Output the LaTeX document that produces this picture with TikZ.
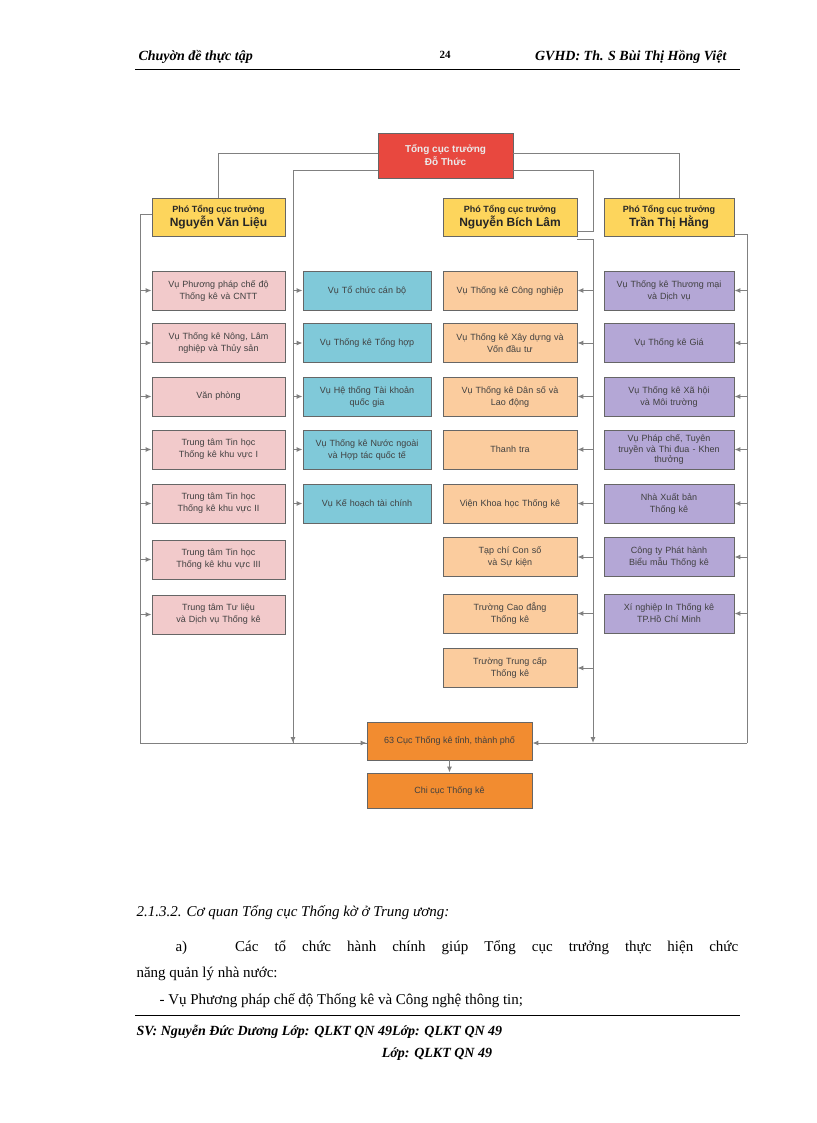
\documentclass[tikz,border=0pt]{standalone}
\usepackage{fontspec}
\setmainfont{Liberation Serif}
\newfontfamily\bsans{Liberation Sans}
\usetikzlibrary{arrows.meta}
\definecolor{cred}{HTML}{E8483F}
\definecolor{cyel}{HTML}{FDD55C}
\definecolor{cpink}{HTML}{F2CACB}
\definecolor{cblue}{HTML}{80C9D9}
\definecolor{cpeach}{HTML}{FBCC9E}
\definecolor{cpur}{HTML}{B4A7D6}
\definecolor{corg}{HTML}{F28C30}
\begin{document}
\begin{tikzpicture}[x=1pt,y=-1pt,
 box/.style={draw=black!60,line width=0.9pt,align=center,inner sep=1pt,minimum height=39pt,font=\bsans\fontsize{9}{12}\selectfont,text=black!75},
 L/.style={box,fill=cpink,minimum width=133pt,text width=128pt},
 M/.style={box,fill=cblue,minimum width=128pt,text width=124pt},
 B/.style={box,fill=cpeach,minimum width=134pt,text width=130pt},
 H/.style={box,fill=cpur,minimum width=130pt,text width=128pt},
 dep/.style={box,fill=cyel,minimum width=133pt,minimum height=38pt,font=\bsans\bfseries\fontsize{9}{12}\selectfont,text=black!85},
 ln/.style={draw=black!50,line width=1pt},
 arr/.style={ln,-{Latex[length=6pt,width=5pt]}},
 hd/.style={font=\bfseries\itshape\fontsize{14}{16}\selectfont,anchor=base west}]
\useasboundingbox (0,0) rectangle (816,1123);
% header
\node[hd] (h1) at (135,61) {Chuyờn đề thực tập};
\node[font=\bfseries\fontsize{11}{12}\selectfont,anchor=base] (h2) at (445,59) {24};
\node[hd,anchor=base east] (h3) at (730,61) {GVHD: Th. S Bùi Thị Hồng Việt};
\draw[line width=1pt] (135,70) -- (740,70);
% nodes
\node[box,fill=cred,minimum width=135pt,minimum height=45pt,text=white!92!black,font=\bsans\bfseries\fontsize{10}{13}\selectfont] (top) at (445.5,155.5) {Tổng cục trưởng\\Đỗ Thức};
\node[dep] (d1) at (218.5,217) {Phó Tổng cục trưởng\\{\fontsize{12}{14}\selectfont Nguyễn Văn Liệu}};
\node[dep,minimum width=134pt] (d2) at (510,217) {Phó Tổng cục trưởng\\{\fontsize{12}{14}\selectfont Nguyễn Bích Lâm}};
\node[dep,minimum width=130pt] (d3) at (669,217) {Phó Tổng cục trưởng\\{\fontsize{12}{14}\selectfont Trần Thị Hằng}};
\node[L] (l1) at (218.5,290.5) {Vụ Phương pháp chế độ\\Thống kê và CNTT};
\node[L] (l2) at (218.5,343) {Vụ Thống kê Nông, Lâm\\nghiệp và Thủy sản};
\node[L] (l3) at (218.5,396.5) {Văn phòng};
\node[L] (l4) at (218.5,449.5) {Trung tâm Tin học\\Thống kê khu vực I};
\node[L] (l5) at (218.5,503.5) {Trung tâm Tin học\\Thống kê khu vực II};
\node[L] (l6) at (218.5,559.5) {Trung tâm Tin học\\Thống kê khu vực III};
\node[L] (l7) at (218.5,614.5) {Trung tâm Tư liệu\\và Dịch vụ Thống kê};
\node[M] (m1) at (367,290.5) {Vụ Tổ chức cán bộ};
\node[M] (m2) at (367,343) {Vụ Thống kê Tổng hợp};
\node[M] (m3) at (367,396.5) {Vụ Hệ thống Tài khoản\\quốc gia};
\node[M] (m4) at (367,449.5) {Vụ Thống kê Nước ngoài\\và Hợp tác quốc tế};
\node[M] (m5) at (367,503.5) {Vụ Kế hoạch tài chính};
\node[B] (b1) at (510,290.5) {Vụ Thống kê Công nghiệp};
\node[B] (b2) at (510,343) {Vụ Thống kê Xây dựng và\\Vốn đầu tư};
\node[B] (b3) at (510,396.5) {Vụ Thống kê Dân số và\\Lao động};
\node[B] (b4) at (510,449.5) {Thanh tra};
\node[B] (b5) at (510,503.5) {Viện Khoa học Thống kê};
\node[B] (b6) at (510,557) {Tạp chí Con số\\và Sự kiện};
\node[B] (b7) at (510,613.5) {Trường Cao đẳng\\Thống kê};
\node[B] (b8) at (510,668) {Trường Trung cấp\\Thống kê};
\node[H] (k1) at (669,290.5) {Vụ Thống kê Thương mại\\và Dịch vụ};
\node[H] (k2) at (669,343) {Vụ Thống kê Giá};
\node[H] (k3) at (669,396.5) {Vụ Thống kê Xã hội\\và Môi trường};
\node[H,font=\bsans\fontsize{9}{10.5}\selectfont] (k4) at (669,449.5) {Vụ Pháp chế, Tuyên\\truyền và Thi đua - Khen\\thưởng};
\node[H] (k5) at (669,503.5) {Nhà Xuất bản\\Thống kê};
\node[H] (k6) at (669,557) {Công ty Phát hành\\Biểu mẫu Thống kê};
\node[H] (k7) at (669,613.5) {Xí nghiệp In Thống kê\\TP.Hồ Chí Minh};
\node[box,fill=corg,minimum width=165pt,minimum height=38pt] (c63) at (449.5,741) {63 Cục Thống kê tỉnh, thành phố};
\node[box,fill=corg,minimum width=165pt,minimum height=35pt] (cc) at (449.5,790.5) {Chi cục Thống kê};
% bus coordinates
\coordinate (lb) at (140,743);
\coordinate (mb) at (293,743);
\coordinate (bb) at (593,743);
\coordinate (hb) at (747,743);
% connectors from top
\draw[ln] (top.west |- 0,154) -| (d1.north -| 218,0);
\draw[ln] (top.east |- 0,154) -| (d3.north -| 679,0);
\draw[ln] (top.west |- 0,171) -| (mb);
\draw[ln] (top.east |- 0,171) -| (593,232) -- (d2.east |- 0,232);
% buses
\draw[ln] (d1.west |- 0,215) -| (lb);
\draw[arr] (lb) -- (c63.west |- lb);
\draw[arr] (293,700) -- (mb);
\draw[ln] (mb) -- (c63.west |- mb);
\draw[ln] (d2.east |- 0,239) -| (593,700);
\draw[arr] (593,700) -- (bb);
\draw[ln] (d3.east |- 0,235) -| (hb);
\draw[arr] (hb) -- (c63.east |- hb);
\draw[arr] (c63) -- (cc);
\foreach \n in {l1,l2,l3,l4,l5,l6,l7} \draw[arr] (\n.west -| lb) -- (\n.west);
\foreach \n in {m1,m2,m3,m4,m5} \draw[arr] (\n.west -| mb) -- (\n.west);
\foreach \n in {b1,b2,b3,b4,b5,b6,b7,b8} \draw[arr] (\n.east -| bb) -- (\n.east);
\foreach \n in {k1,k2,k3,k4,k5,k6,k7} \draw[arr] (\n.east -| hb) -- (\n.east);
% body text
\node[font=\itshape\fontsize{15}{17}\selectfont,anchor=base west] (t1) at (133,916) {2.1.3.2. Cơ quan Tổng cục Thống kờ ở Trung ương:};
\node[font=\fontsize{15}{17}\selectfont,anchor=base west] (t2) at (172,951) {a)};
\node[font=\fontsize{15}{17}\selectfont,anchor=base west,inner sep=0pt] (t3) at (235,951) {\makebox[503pt][s]{Các tổ chức hành chính giúp Tổng cục trưởng thực hiện chức}};
\node[font=\fontsize{15}{17}\selectfont,anchor=base west] (t4) at (133,977) {năng quản lý nhà nước:};
\node[font=\fontsize{15}{17}\selectfont,anchor=base west] (t5) at (156,1004) {- Vụ Phương pháp chế độ Thống kê và Công nghệ thông tin;};
\draw[line width=1pt] (135,1015) -- (740,1015);
\node[hd] (f1) at (133,1035) {SV: Nguyễn Đức Dương Lớp: QLKT QN 49Lớp: QLKT QN 49};
\node[hd,anchor=base] (f2) at (437,1057) {Lớp: QLKT QN 49};
\end{tikzpicture}
\end{document}
